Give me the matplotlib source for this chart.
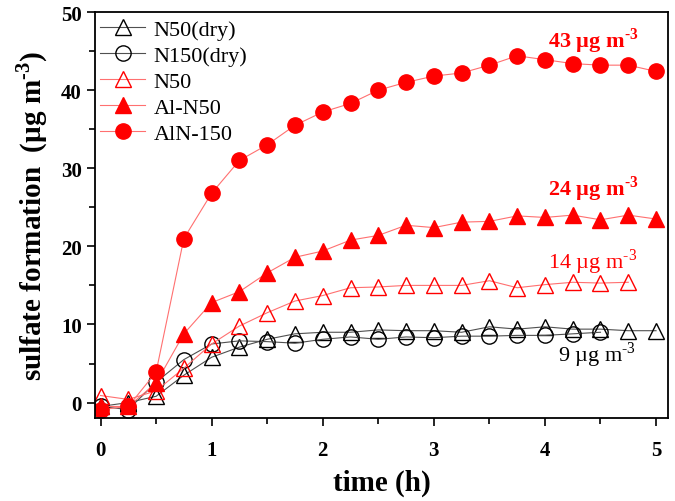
import numpy as np
import matplotlib
matplotlib.use("Agg")
import matplotlib.pyplot as plt
from matplotlib.ticker import MultipleLocator

plt.rcParams['font.family'] = ['Liberation Serif', 'DejaVu Serif']
plt.rcParams['mathtext.fontset'] = 'custom'
plt.rcParams['mathtext.rm'] = 'Liberation Serif'
plt.rcParams['mathtext.bf'] = 'Liberation Serif:bold'

t = np.arange(0, 5.01, 0.25)

n50_dry = [-0.5, 0.0, 0.8, 3.5, 5.8, 7.1, 8.1, 8.8, 9.0, 9.0, 9.3, 9.2, 9.2, 9.0,
           9.7, 9.4, 9.7, 9.4, 9.4, 9.2, 9.2]
n150_dry = [-0.5, -0.9, 2.6, 5.5, 7.5, 7.9, 7.8, 7.6, 8.1, 8.4, 8.1, 8.4, 8.3, 8.5,
            8.5, 8.6, 8.6, 8.8, 9.0]
n50 = [0.9, 0.4, 1.5, 4.4, 7.5, 9.8, 11.5, 13.0, 13.7, 14.7, 14.8, 15.0, 15.0, 15.0,
       15.6, 14.7, 15.1, 15.4, 15.3, 15.4]
al_n50 = [-0.5, -0.5, 2.5, 8.8, 12.8, 14.2, 16.6, 18.6, 19.4, 20.8, 21.4, 22.7, 22.4,
          23.1, 23.2, 23.9, 23.7, 24.0, 23.4, 24.0, 23.5]
aln_150 = [-0.9, -0.5, 3.9, 21.0, 26.8, 31.0, 33.0, 35.5, 37.2, 38.3, 40.0, 41.0, 41.8,
           42.2, 43.2, 44.4, 43.9, 43.4, 43.2, 43.2, 42.4]

fig = plt.figure(figsize=(6.75, 5.02), dpi=100)
ax = fig.add_axes([0.1407, 0.165, 0.849, 0.809])

ms = 11
grey = '#505050'
pink = '#ff7070'

ax.plot(t[:len(n50_dry)], n50_dry, '-', color=grey, lw=0.8, marker='^', ms=ms,
        mfc='none', mec='black', mew=1.0, label='N50(dry)')
ax.plot(t[:len(n150_dry)], n150_dry, '-', color=grey, lw=0.8, marker='o', ms=ms,
        mfc='none', mec='black', mew=1.0, label='N150(dry)')
ax.plot(t[:len(n50)], n50, '-', color=pink, lw=0.8, marker='^', ms=ms,
        mfc='none', mec='red', mew=1.0, label='N50')
ax.plot(t[:len(al_n50)], al_n50, '-', color=pink, lw=0.8, marker='^', ms=ms,
        mfc='red', mec='red', label='Al-N50')
ax.plot(t[:len(aln_150)], aln_150, '-', color=pink, lw=0.8, marker='o', ms=ms,
        mfc='red', mec='red', label='AlN-150')

ax.set_xlim(-0.05, 5.108)
ax.set_ylim(-2, 50)
ax.xaxis.set_major_locator(MultipleLocator(1))
ax.xaxis.set_minor_locator(MultipleLocator(0.5))
ax.yaxis.set_major_locator(MultipleLocator(10))
ax.yaxis.set_minor_locator(MultipleLocator(5))
ax.tick_params(which='major', direction='out', length=6, width=1.2, labelsize=15)
ax.tick_params(axis='x', which='major', pad=10)
ax.tick_params(which='minor', direction='out', length=4, width=1.2)
for lab in ax.get_xticklabels() + ax.get_yticklabels():
    lab.set_fontweight('bold')
for s in ax.spines.values():
    s.set_linewidth(1.3)

sup_b = '$^{\\mathbf{\u2010}\\mathbf{3}}$'
sup_r = '$^{\u20103}$'

ax.set_xlabel('time (h)', fontsize=21, fontweight='bold', labelpad=6)
ax.set_ylabel('sulfate formation  (\u00b5g m' + sup_b + ')', fontsize=21,
              fontweight='bold', labelpad=8)

ax.text(4.03, 45.6, '43 \u00b5g m' + sup_b, color='red', fontsize=16,
        fontweight='bold', ha='left', va='baseline')
ax.text(4.03, 26.6, '24 \u00b5g m' + sup_b, color='red', fontsize=16,
        fontweight='bold', ha='left', va='baseline')
ax.text(4.03, 17.3, '14 \u00b5g m' + sup_r, color='red', fontsize=16,
        ha='left', va='baseline')
ax.text(4.12, 5.3, '9 \u00b5g m' + sup_r, color='black', fontsize=16,
        ha='left', va='baseline')

ax.legend(loc='upper left', bbox_to_anchor=(-0.01, 1.01), frameon=False, fontsize=16,
          handlelength=2.0, borderaxespad=0.1, labelspacing=0.25, handletextpad=0.4)

fig.savefig('out.png', dpi=100)
